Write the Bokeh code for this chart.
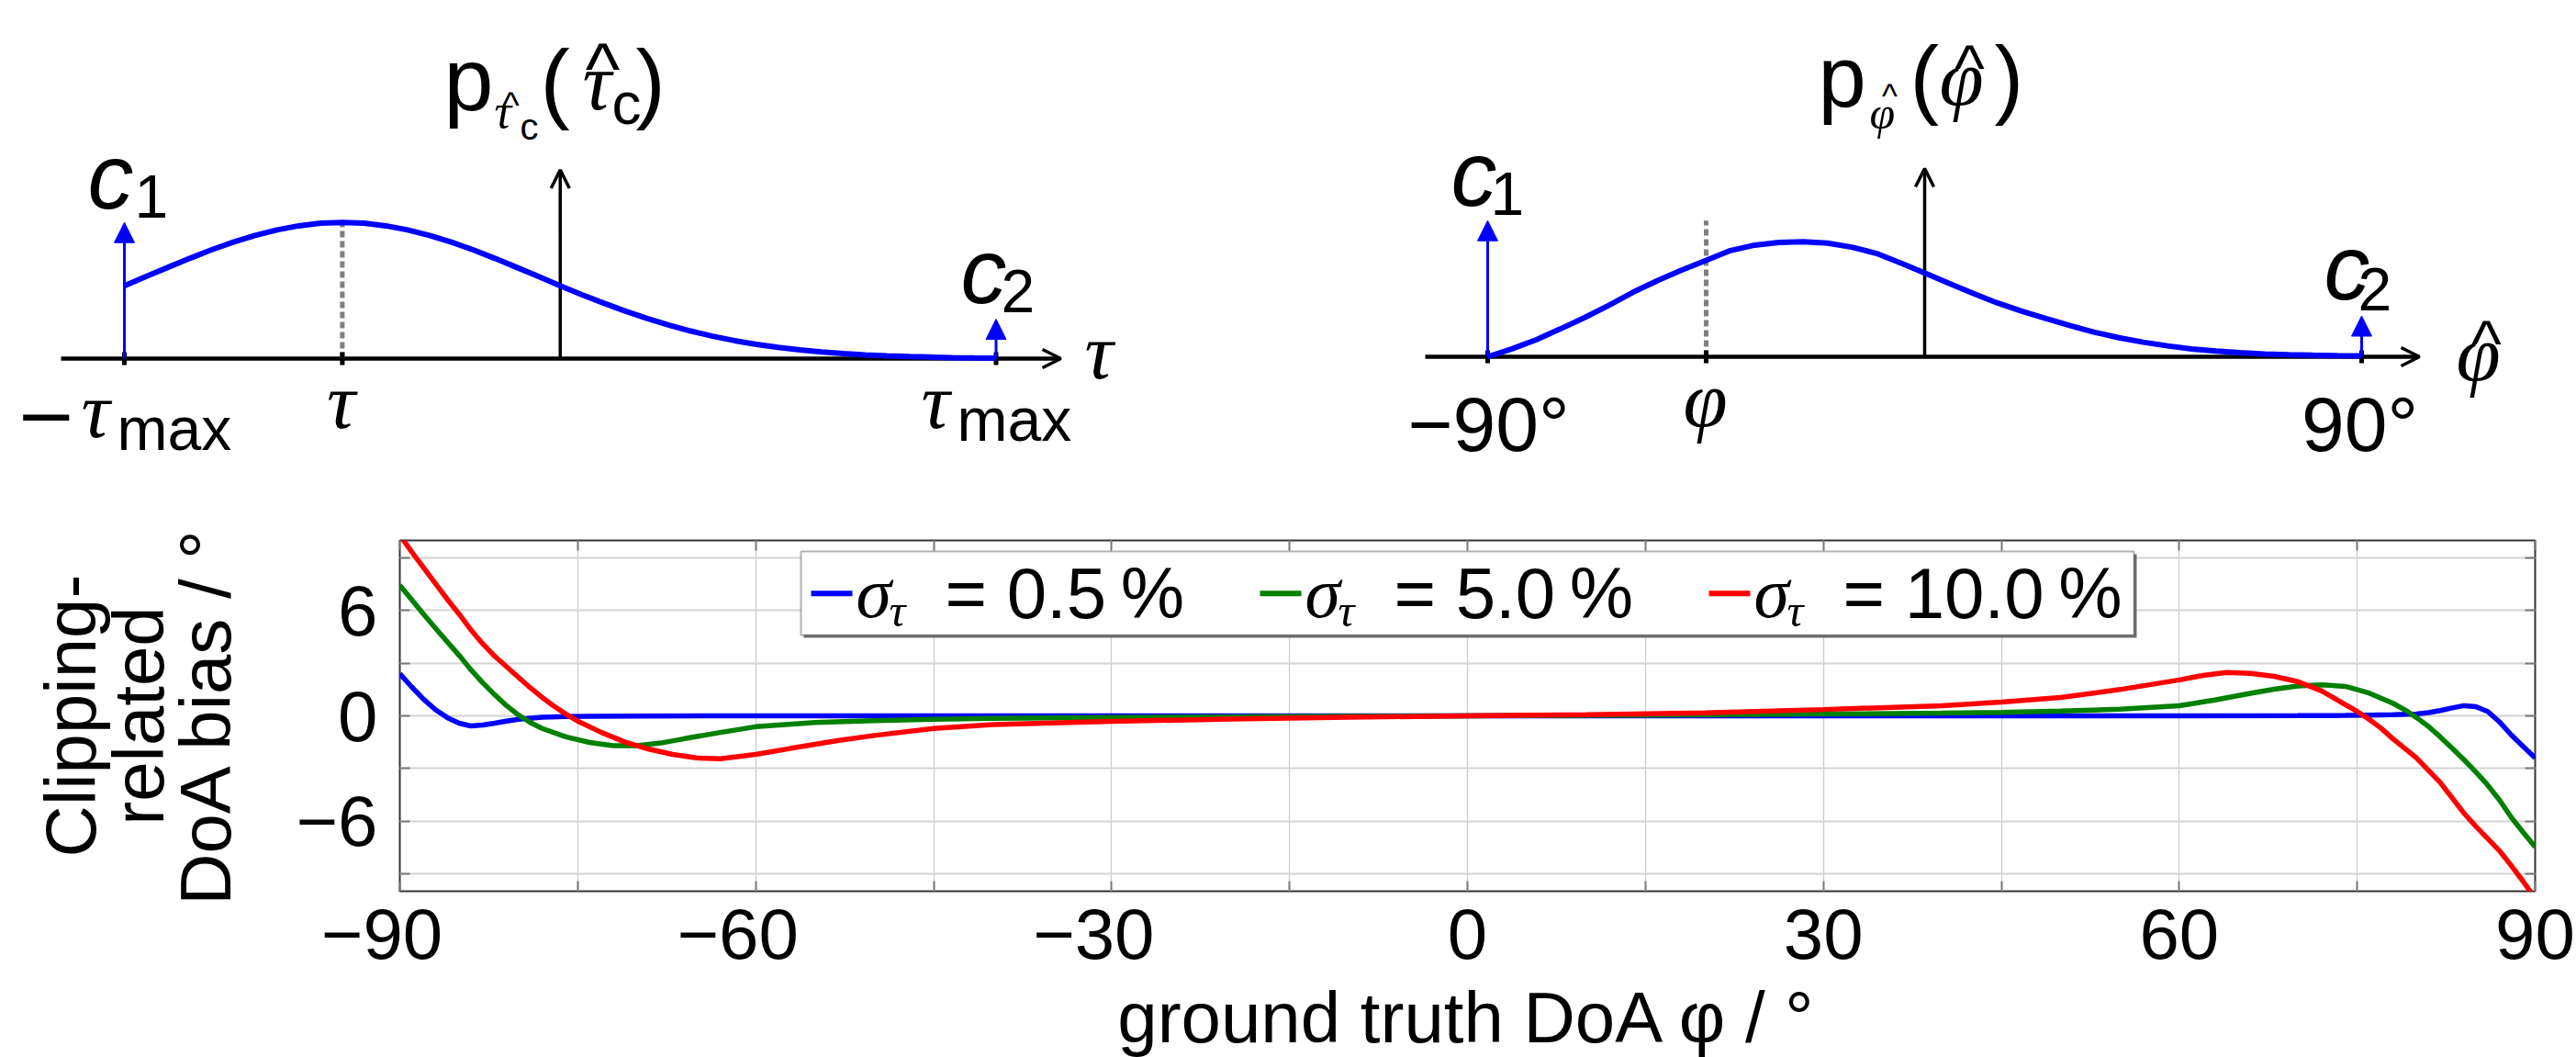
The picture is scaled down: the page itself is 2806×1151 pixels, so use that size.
from bokeh.plotting import figure
from bokeh.models import (Range1d, Label, Arrow, NormalHead, OpenHead, BoxAnnotation,
                          FixedTicker, LinearAxis)
from bokeh.layouts import column, row
from bokeh.embed import file_html
from bokeh.resources import INLINE

SANS = "Liberation Sans"
SERIF = "Liberation Serif"

# ------------------------------------------------------------------ data
# top-left sketch: density of the clipped TDoA estimate (tau normalised, tau_max = 1)
tau_grid = [-1.00, -0.95, -0.90, -0.85, -0.80, -0.75, -0.70, -0.65, -0.60, -0.55,
            -0.50, -0.45, -0.40, -0.35, -0.30, -0.25, -0.20, -0.15, -0.10, -0.05,
            0.00, 0.05, 0.10, 0.15, 0.20, 0.25, 0.30, 0.35, 0.40, 0.45,
            0.50, 0.55, 0.60, 0.65, 0.70, 0.75, 0.80, 0.85, 0.90, 0.95, 1.00]
tau_density = [0.535, 0.603, 0.670, 0.736, 0.799, 0.855, 0.905, 0.945, 0.975, 0.994,
               1.000, 0.994, 0.975, 0.945, 0.905, 0.855, 0.799, 0.736, 0.670, 0.603,
               0.535, 0.469, 0.407, 0.348, 0.294, 0.245, 0.202, 0.164, 0.132, 0.105,
               0.082, 0.064, 0.049, 0.037, 0.027, 0.020, 0.015, 0.011, 0.007, 0.005, 0.004]
tau_true = -0.5
tau_max = 1.0
tau_c1 = 1.0     # height of the Dirac at -tau_max
tau_c2 = 0.29    # height of the Dirac at +tau_max
tau_peak = 1.0

# top-right sketch: density of the DoA estimate (degrees)
phi_grid = [-90, -85, -80, -75, -70, -65, -60, -55, -50, -45, -40, -35, -30, -25, -20,
            -15, -10, -5, 0, 5, 10, 15, 20, 25, 30, 35, 40, 45, 50, 55, 60, 65, 70,
            75, 80, 85, 90]
phi_density = [0.000, 0.058, 0.125, 0.205, 0.288, 0.378, 0.475, 0.560, 0.637, 0.708,
               0.780, 0.820, 0.840, 0.845, 0.835, 0.805, 0.760, 0.690, 0.615, 0.540,
               0.465, 0.395, 0.335, 0.280, 0.228, 0.180, 0.140, 0.107, 0.080, 0.058,
               0.042, 0.030, 0.021, 0.015, 0.011, 0.008, 0.006]
phi_true = -45
phi_max = 90
phi_c1 = 1.0
phi_c2 = 0.30
phi_dash_top = 1.0

# bottom: clipping-related DoA bias (degrees) vs. ground-truth DoA (degrees)
blue_x = [-90, -89, -88, -87, -86, -85, -84, -83, -82, -81, -80, -78, -76, -74, -70, -60,
          -45, -30, -15, 0, 15, 30, 45, 60, 70, 74, 76, 78, 80, 81, 82, 83, 84, 85, 86,
          87, 88, 89, 90]
blue_y = [2.4, 1.65, 0.95, 0.35, -0.1, -0.42, -0.58, -0.52, -0.42, -0.3, -0.2, -0.08,
          -0.04, -0.02, -0.01, 0.0, 0.0, 0.0, 0.0, 0.0, 0.0, 0.0, 0.0, 0.0, 0.01, 0.02,
          0.04, 0.06, 0.1, 0.18, 0.3, 0.45, 0.58, 0.52, 0.25, -0.35, -1.1, -1.75, -2.4]

green_x = [-90, -89, -88, -87, -86, -85, -84, -83, -82, -81, -80, -79, -78, -76, -74, -72,
           -70, -68, -66, -63, -60, -55, -50, -45, -40, -30, -15, 0, 15, 30, 40, 45, 50,
           55, 60, 63, 66, 68, 70, 72, 74, 76, 78, 79, 80, 81, 82, 83, 84, 85, 86, 87,
           88, 89, 90]
green_y = [7.45, 6.62, 5.8, 5.0, 4.22, 3.45, 2.62, 1.88, 1.2, 0.58, 0.05, -0.38, -0.72,
           -1.2, -1.52, -1.7, -1.7, -1.55, -1.3, -0.95, -0.62, -0.38, -0.27, -0.2, -0.15,
           -0.09, -0.04, 0.0, 0.04, 0.1, 0.16, 0.2, 0.27, 0.38, 0.58, 0.9, 1.28, 1.52,
           1.7, 1.77, 1.68, 1.3, 0.72, 0.35, -0.1, -0.6, -1.2, -1.85, -2.5, -3.2, -3.95,
           -4.8, -5.8, -6.65, -7.47]

red_x = [-90, -89, -88, -87, -86, -85, -84, -83, -82, -81, -80, -79, -78, -77, -76, -75,
         -73, -71, -69, -67, -65, -63, -60, -57, -53, -50, -45, -40, -30, -20, -10, 0,
         10, 20, 30, 40, 45, 50, 55, 60, 62, 64, 66, 68, 70, 72, 74, 75, 76, 77, 78, 80,
         82, 84, 85, 86, 87, 88, 89, 90]
red_y = [10.3, 9.35, 8.45, 7.55, 6.65, 5.8, 4.9, 4.1, 3.4, 2.8, 2.2, 1.6, 1.05, 0.55,
         0.1, -0.3, -0.95, -1.5, -1.9, -2.2, -2.4, -2.45, -2.2, -1.85, -1.4, -1.12,
         -0.72, -0.5, -0.32, -0.18, -0.08, 0.0, 0.07, 0.17, 0.36, 0.58, 0.78, 1.05, 1.5,
         2.05, 2.3, 2.47, 2.42, 2.25, 1.95, 1.42, 0.64, 0.25, -0.2, -0.7, -1.3, -2.4,
         -3.8, -5.55, -6.3, -7.0, -7.7, -8.55, -9.45, -10.4]

series_x = [blue_x, green_x, red_x]
series_y = [blue_y, green_y, red_y]
series_colors = ["#0000ff", "#008000", "#ff0000"]
sigma_labels = ["0.5", "5.0", "10.0"]

x_label_ticks = [-90, -60, -30, 0, 30, 60, 90]
x_minor_ticks = [-75, -45, -15, 15, 45, 75]
x_tick_labels = ["\u221290\u2002", "\u221260\u2002", "\u221230\u2002", "0", "30", "60", "90"]
y_label_ticks = [-6, 0, 6]
y_minor_ticks = [-9, -3, 3, 9]
y_tick_labels = ["\u22126", "0", "6"]

# ------------------------------------------------------------------ layout (reference pixels)
OFF = 0
TOP_H = 540
W_TOTAL = 2806
W_LEFT = 1403
TL_X0, TL_SX, TL_Y0 = 609.75, 474.75, 390.0
TR_X0, TR_SX, TR_Y0 = 2096.0, 952.0 / 180.0, 388.0
D_SY = 148.3
B_L, B_R, B_T, B_B = 435.0, 2761.0, 588.0, 970.0
BASE_FIX = 0.32   # baseline correction (fraction of font size) for Label placement


def tl_x(px): return (px - TL_X0) / TL_SX
def tl_y(py): return (TL_Y0 - py) / D_SY
def tr_x(px): return (px - TR_X0) / TR_SX
def tr_y(py): return (TR_Y0 - py) / D_SY
def bx(px): return -90 + (px - B_L) / (B_R - B_L) * 180.0
def by(py): return 10 - (py - B_T) / (B_B - B_T) * 20.0


def txt(fig, fx, fy, px, py, text, size, font=SANS, style="normal", align="left",
        color="black"):
    fig.add_layout(Label(x=fx(px), y=fy(py - BASE_FIX * size), text=text, text_font=font,
                         text_font_size=f"{size}px", text_font_style=style,
                         text_align=align, text_baseline="alphabetic",
                         text_line_height=1.0, text_color=color))


def blank_fig(w, h, xr, yr):
    f = figure(width=w, height=h, x_range=xr, y_range=yr, output_backend="svg",
               toolbar_location=None, min_border=0, x_axis_location=None,
               y_axis_location=None, outline_line_color=None)
    f.grid.visible = False
    return f


# ------------------------------------------------------------------ top-left sketch
ftl = blank_fig(W_LEFT, TOP_H,
                Range1d(tl_x(OFF), tl_x(OFF + W_LEFT)),
                Range1d(tl_y(OFF + TOP_H), tl_y(OFF)))
ftl.add_layout(Arrow(x_start=tl_x(66), y_start=0, x_end=tl_x(1155), y_end=0,
                     line_width=4.5, line_color="black", level="underlay",
                     end=OpenHead(size=20, line_width=3.5, line_color="black")))
ftl.add_layout(Arrow(x_start=0, y_start=0, x_end=0, y_end=tl_y(184.5),
                     line_width=3.5, line_color="black", level="underlay",
                     end=OpenHead(size=20, line_width=3.5, line_color="black")))
ftl.segment(x0=[tau_true], y0=[0], x1=[tau_true], y1=[tau_peak], line_color="#7f7f7f",
            line_width=5, line_dash="7 4")
tk = 7.0 / D_SY
ftl.segment(x0=[-tau_max, tau_true, tau_max], y0=[-tk] * 3,
            x1=[-tau_max, tau_true, tau_max], y1=[tk] * 3, line_color="black", line_width=5)
ftl.line(tau_grid, tau_density, line_color="#0000ff", line_width=6)
for xv, hv in [(-tau_max, tau_c1), (tau_max, tau_c2)]:
    ftl.add_layout(Arrow(x_start=xv, y_start=0, x_end=xv, y_end=hv, line_color="#0000ff",
                         line_width=3,
                         end=NormalHead(size=22, fill_color="#0000ff", line_color="#0000ff")))
# labels
txt(ftl, tl_x, tl_y, 95, 223, "c", 100, style="italic")
txt(ftl, tl_x, tl_y, 146, 235, "1", 66)
txt(ftl, tl_x, tl_y, 1046, 326, "c", 100, style="italic")
txt(ftl, tl_x, tl_y, 1090, 338, "2", 66)
txt(ftl, tl_x, tl_y, 16, 476, "\u2212", 80, font="DejaVu Sans")
txt(ftl, tl_x, tl_y, 88, 474, "\u03c4", 87, font=SERIF, style="italic")
txt(ftl, tl_x, tl_y, 127, 488, "max", 66)
txt(ftl, tl_x, tl_y, 371, 464, "\u03c4", 87, font=SERIF, style="italic", align="center")
txt(ftl, tl_x, tl_y, 1003, 464, "\u03c4", 87, font=SERIF, style="italic")
txt(ftl, tl_x, tl_y, 1042, 478, "max", 66)
txt(ftl, tl_x, tl_y, 1181, 410, "\u03c4", 87, font=SERIF, style="italic")
# title p_{tau_c}(tau_c)
txt(ftl, tl_x, tl_y, 483, 117, "p", 97)
txt(ftl, tl_x, tl_y, 538, 138, "\u03c4", 52, font=SERIF, style="italic")
txt(ftl, tl_x, tl_y, 556, 126, "^", 40, align="center")
txt(ftl, tl_x, tl_y, 566, 150, "c", 40)
txt(ftl, tl_x, tl_y, 588, 119, "(", 97)
txt(ftl, tl_x, tl_y, 634, 117, "\u03c4", 88, font=SERIF, style="italic")
txt(ftl, tl_x, tl_y, 656, 100, "^", 80, align="center")
txt(ftl, tl_x, tl_y, 666, 133, "c", 64)
txt(ftl, tl_x, tl_y, 692, 119, ")", 97)

# ------------------------------------------------------------------ top-right sketch
ftr = blank_fig(W_TOTAL - W_LEFT, TOP_H,
                Range1d(tr_x(OFF + W_LEFT), tr_x(OFF + W_TOTAL)),
                Range1d(tr_y(OFF + TOP_H), tr_y(OFF)))
ftr.add_layout(Arrow(x_start=tr_x(1552), y_start=0, x_end=tr_x(2635), y_end=0,
                     line_width=4.5, line_color="black", level="underlay",
                     end=OpenHead(size=20, line_width=3.5, line_color="black")))
ftr.add_layout(Arrow(x_start=0, y_start=0, x_end=0, y_end=tr_y(183),
                     line_width=3.5, line_color="black", level="underlay",
                     end=OpenHead(size=20, line_width=3.5, line_color="black")))
ftr.segment(x0=[phi_true], y0=[0], x1=[phi_true], y1=[phi_dash_top], line_color="#7f7f7f",
            line_width=5, line_dash="7 4")
ftr.segment(x0=[-phi_max, phi_true, phi_max], y0=[-tk] * 3,
            x1=[-phi_max, phi_true, phi_max], y1=[tk] * 3, line_color="black", line_width=5)
ftr.line(phi_grid, phi_density, line_color="#0000ff", line_width=6)
for xv, hv in [(-phi_max, phi_c1), (phi_max, phi_c2)]:
    ftr.add_layout(Arrow(x_start=xv, y_start=0, x_end=xv, y_end=hv, line_color="#0000ff",
                         line_width=3,
                         end=NormalHead(size=22, fill_color="#0000ff", line_color="#0000ff")))
txt(ftr, tr_x, tr_y, 1580, 220, "c", 100, style="italic")
txt(ftr, tr_x, tr_y, 1623, 232, "1", 66)
txt(ftr, tr_x, tr_y, 2531, 322, "c", 100, style="italic")
txt(ftr, tr_x, tr_y, 2568, 336, "2", 66)
txt(ftr, tr_x, tr_y, 1621, 488, "\u221290\u00b0", 84, align="center")
txt(ftr, tr_x, tr_y, 1857, 462, "\u03c6", 87, font=SERIF, style="italic", align="center")
txt(ftr, tr_x, tr_y, 2570, 488, "90\u00b0", 84, align="center")
txt(ftr, tr_x, tr_y, 2675, 412, "\u03c6", 87, font=SERIF, style="italic")
txt(ftr, tr_x, tr_y, 2708, 396, "^", 70, align="center")
# title p_{phi}(phi)
txt(ftr, tr_x, tr_y, 1980, 113, "p", 94)
txt(ftr, tr_x, tr_y, 2036, 138, "\u03c6", 50, font=SERIF, style="italic")
txt(ftr, tr_x, tr_y, 2058, 116, "^", 36, align="center")
txt(ftr, tr_x, tr_y, 2080, 114, "(", 95)
txt(ftr, tr_x, tr_y, 2112, 112, "\u03c6", 87, font=SERIF, style="italic")
txt(ftr, tr_x, tr_y, 2145, 96, "^", 70, align="center")
txt(ftr, tr_x, tr_y, 2172, 114, ")", 95)

# ------------------------------------------------------------------ bottom plot
FW = int(round(B_R - B_L))
p = figure(frame_width=FW, frame_height=int(round(B_B - B_T)),
           x_range=Range1d(-90, 90), y_range=Range1d(-10, 10), output_backend="svg",
           toolbar_location=None, min_border_left=int(B_L - OFF),
           min_border_right=W_TOTAL - int(B_L - OFF) - FW,
           min_border_top=int(B_T - OFF - TOP_H), min_border_bottom=0)
p.outline_line_color = "#333333"
p.outline_line_width = 2

xt = FixedTicker(ticks=x_label_ticks, minor_ticks=x_minor_ticks)
yt = FixedTicker(ticks=y_label_ticks, minor_ticks=y_minor_ticks)
p.xaxis.ticker = xt
p.yaxis.ticker = yt
p.xgrid.ticker = xt
p.ygrid.ticker = yt
p.xaxis.major_label_overrides = dict(zip(x_label_ticks, x_tick_labels))
p.yaxis.major_label_overrides = dict(zip(y_label_ticks, y_tick_labels))
for g, col, w in ((p.xgrid[0], "#cccccc", 1.3), (p.ygrid[0], "#d4d4d4", 2)):
    g.grid_line_color = col
    g.grid_line_width = w
    g.minor_grid_line_color = col
    g.minor_grid_line_width = w

TICK_STYLE = dict(major_tick_in=11, major_tick_out=0, major_tick_line_color="#7a7a7a",
                  major_tick_line_width=2, minor_tick_in=11, minor_tick_out=0,
                  minor_tick_line_color="#7a7a7a", minor_tick_line_width=2)
for ax in (p.xaxis[0], p.yaxis[0]):
    ax.axis_line_color = None
    for k, v in TICK_STYLE.items():
        setattr(ax, k, v)
    ax.major_label_text_font = SANS
    ax.major_label_text_font_size = "78px"
    ax.major_label_text_color = "black"
    ax.axis_label_text_font = SANS
    ax.axis_label_text_font_size = "78px"
    ax.axis_label_text_font_style = "normal"
    ax.axis_label_text_color = "black"

p.xaxis.major_label_standoff = 2
p.yaxis.major_label_standoff = 24
p.xaxis.axis_label = "ground truth DoA \u03c6 / \u00b0"
p.xaxis.axis_label_standoff = 0
p.xaxis.axis_label_text_line_height = 0.9
p.yaxis.axis_label = "Clipping-\nrelated\nDoA bias / \u00b0"
p.yaxis.axis_label_text_line_height = 0.83
p.yaxis.axis_label_standoff = 52

for loc, mt in (("above", x_label_ticks + x_minor_ticks), ("right", y_label_ticks + y_minor_ticks)):
    extra = LinearAxis(ticker=FixedTicker(ticks=[], minor_ticks=sorted(mt)),
                       axis_line_color=None, **TICK_STYLE)
    p.add_layout(extra, loc)

# legend (box + samples + texts)
LG_L, LG_R, LG_T, LG_B = 872, 2324, 600, 691
p.add_layout(BoxAnnotation(left=bx(LG_L + 3), right=bx(LG_R + 3), top=by(LG_T + 3),
                           bottom=by(LG_B + 3), fill_color="#707070", fill_alpha=1,
                           line_color=None, level="underlay"))
p.add_layout(BoxAnnotation(left=bx(LG_L), right=bx(LG_R), top=by(LG_T), bottom=by(LG_B),
                           fill_color="white", fill_alpha=1, line_color="black",
                           line_width=2, level="underlay"))
for xs, ys, col in zip(series_x, series_y, series_colors):
    p.line(xs, ys, line_color=col, line_width=5.5)

entry_x0 = [883, 1372, 1861]
p.segment(x0=[bx(e) for e in entry_x0], y0=[by(645.7)] * 3,
          x1=[bx(e + 45) for e in entry_x0], y1=[by(645.7)] * 3,
          line_color=series_colors, line_width=6)
for e, lab in zip(entry_x0, sigma_labels):
    txt(p, bx, by, e + 49, 670, "\u03c3", 78, font=SERIF, style="italic")
    txt(p, bx, by, e + 85, 680, "\u03c4", 50, font=SERIF, style="italic")
    txt(p, bx, by, e + 146, 670, "= " + lab + "\u2009%", 78)

layout = column(row(ftl, ftr), p)
open("out.html", "w").write(file_html(layout, INLINE, title="Clipping-related DoA bias"))
